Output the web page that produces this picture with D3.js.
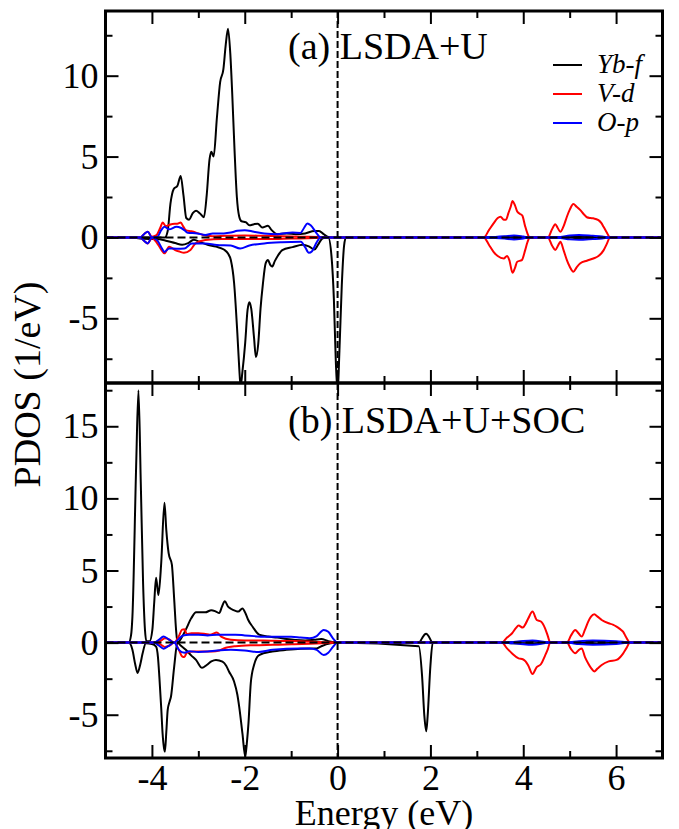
<!DOCTYPE html>
<html>
<head>
<meta charset="utf-8">
<script src="https://cdn.jsdelivr.net/npm/d3@7"></script>
<style>
	body { margin: 0; background: #fff; }
	svg { display: block; font-family: 'Liberation Serif', 'Times New Roman', serif; }
</style>
</head>
<body>
<svg width="679" height="829"></svg>
<script>
'use strict'

// Energy axis ticks
const energyMajor = [-4, -2, 0, 2, 4, 6]
const energyMinor = [-3, -1, 1, 3, 5]
const energyLabels = ['-4', '-2', '0', '2', '4', '6']

// PDOS axis ticks per panel
const aMajor = [-5, 0, 5, 10]
const aMinor = [-7.5, -2.5, 2.5, 7.5, 12.5]
const bMajor = [-5, 0, 5, 10, 15]
const bMinor = [-7.5, -2.5, 2.5, 7.5, 12.5, 17.5]

const legendNames = ['Yb-f', 'V-d', 'O-p']
const panelTitles = ['(a) LSDA+U', '(b) LSDA+U+SOC']

// (a) LSDA+U : [energy, pdos]  up = spin up, dn = spin down
const aYbUp = [[-5,0],[-3.72,0],[-3.66,0.4],[-3.6,2.1],[-3.53,3.0],[-3.45,3.2],[-3.38,3.8],[-3.32,2.6],[-3.26,1.2],[-3.2,1.1],[-3.12,1.5],[-3.05,1.65],[-2.97,1.5],[-2.88,1.25],[-2.82,2.6],[-2.76,4.8],[-2.72,5.3],[-2.67,5.0],[-2.6,7.4],[-2.53,9.6],[-2.46,10.4],[-2.41,11.9],[-2.36,12.9],[-2.31,11.3],[-2.27,8.9],[-2.22,5.4],[-2.17,2.5],[-2.12,1.3],[-2.07,1.0],[-1.98,0.95],[-1.9,0.75],[-1.8,0.82],[-1.72,0.85],[-1.62,0.62],[-1.5,0.72],[-1.42,0.45],[-1.3,0.2],[-1.1,0.25],[-0.9,0.2],[-0.7,0.25],[-0.5,0.4],[-0.4,0.4],[-0.3,0.2],[-0.2,0.03],[-0.1,0],[3.3,0],[3.7,0.05],[4.0,0.03],[4.14,0],[4.9,0],[5.2,0.05],[5.6,0.03],[5.87,0],[7,0]]
const aYbDn = [[-5,0],[-4.5,0],[-4.2,-0.08],[-3.9,-0.1],[-3.7,-0.2],[-3.5,-0.35],[-3.35,-0.45],[-3.22,-0.35],[-3.1,-0.15],[-2.95,-0.3],[-2.8,-0.45],[-2.62,-0.57],[-2.45,-0.75],[-2.36,-1.0],[-2.3,-1.4],[-2.23,-2.8],[-2.16,-5.9],[-2.12,-8.0],[-2.09,-9.2],[-2.05,-8.3],[-1.99,-6.5],[-1.94,-4.5],[-1.9,-4.0],[-1.86,-4.4],[-1.8,-6.2],[-1.76,-7.4],[-1.71,-6.6],[-1.66,-4.4],[-1.61,-2.9],[-1.55,-1.6],[-1.5,-1.4],[-1.45,-1.7],[-1.41,-1.8],[-1.35,-1.45],[-1.28,-1.1],[-1.19,-0.78],[-0.97,-0.6],[-0.75,-0.45],[-0.62,-0.55],[-0.5,-0.75],[-0.42,-0.45],[-0.32,-0.05],[-0.2,0],[-0.13,-1.2],[-0.08,-3.8],[-0.04,-7.5],[0,-9.6],[0.04,-7.0],[0.09,-3.0],[0.14,-0.5],[0.18,0],[3.3,0],[3.7,-0.05],[4.0,-0.03],[4.14,0],[4.9,0],[5.2,-0.05],[5.6,-0.03],[5.87,0],[7,0]]
const aVdUp = [[-5,0],[-4.25,0],[-4.17,0.2],[-4.09,0.35],[-4.0,0.05],[-3.9,0.15],[-3.82,0.6],[-3.77,0.92],[-3.7,0.7],[-3.62,0.78],[-3.56,0.83],[-3.45,0.85],[-3.38,0.92],[-3.32,0.65],[-3.27,0.45],[-3.15,0.38],[-3.05,0.3],[-2.9,0.15],[-2.7,0.08],[-2.4,0.1],[-2.0,0.12],[-1.6,0.1],[-1.2,0.08],[-0.8,0.05],[-0.4,0.03],[-0.2,0],[3.15,0],[3.26,0.45],[3.36,0.87],[3.45,1.2],[3.51,1.28],[3.58,1.1],[3.63,1.1],[3.68,1.5],[3.73,1.9],[3.77,2.25],[3.82,2.0],[3.87,1.6],[3.93,1.45],[3.98,1.35],[4.04,0.7],[4.09,0.25],[4.14,0],[4.53,0],[4.62,0.5],[4.69,0.82],[4.74,0.6],[4.8,0.35],[4.87,0.7],[4.94,1.28],[5.0,1.7],[5.08,2.06],[5.15,1.9],[5.23,1.69],[5.3,1.45],[5.37,1.25],[5.45,1.2],[5.51,1.18],[5.62,1.07],[5.68,0.9],[5.73,0.66],[5.8,0.3],[5.87,0],[7,0]]
const aVdDn = [[-5,0],[-4.25,0],[-4.17,-0.2],[-4.09,-0.37],[-4.0,-0.05],[-3.9,-0.3],[-3.8,-0.75],[-3.73,-0.98],[-3.63,-0.57],[-3.5,-0.78],[-3.4,-0.88],[-3.31,-0.95],[-3.17,-0.78],[-3.06,-0.37],[-2.85,-0.16],[-2.5,-0.1],[-2.0,-0.1],[-1.5,-0.1],[-1.0,-0.07],[-0.5,-0.04],[-0.2,0],[3.15,0],[3.26,-0.45],[3.36,-0.89],[3.45,-1.15],[3.58,-1.3],[3.65,-1.15],[3.7,-1.4],[3.77,-2.19],[3.82,-1.9],[3.87,-1.5],[3.97,-1.4],[4.04,-0.8],[4.09,-0.3],[4.14,0],[4.53,0],[4.62,-0.5],[4.69,-0.78],[4.75,-0.5],[4.8,-0.27],[4.87,-0.8],[4.94,-1.4],[5.0,-1.8],[5.08,-2.12],[5.15,-1.85],[5.23,-1.6],[5.37,-1.44],[5.51,-1.3],[5.62,-1.15],[5.73,-0.8],[5.8,-0.4],[5.87,0],[7,0]]
const aOpUp = [[-5,0],[-4.25,0],[-4.17,0.2],[-4.09,0.35],[-4.0,0],[-3.88,0.05],[-3.8,0.45],[-3.73,0.66],[-3.63,0.5],[-3.47,0.66],[-3.38,0.6],[-3.3,0.45],[-3.23,0.29],[-3.02,0.25],[-2.85,0.15],[-2.69,0.25],[-2.45,0.25],[-2.3,0.3],[-2.16,0.41],[-2.0,0.45],[-1.8,0.35],[-1.58,0.25],[-1.3,0.2],[-1.1,0.28],[-0.97,0.3],[-0.8,0.28],[-0.72,0.6],[-0.65,0.86],[-0.58,0.75],[-0.45,0.25],[-0.37,0],[3.15,0],[3.4,0.03],[3.6,0.07],[3.8,0.12],[4.0,0.06],[4.14,0],[4.53,0],[4.8,0.03],[5.0,0.12],[5.2,0.15],[5.5,0.1],[5.7,0.06],[5.87,0],[7,0]]
const aOpDn = [[-5,0],[-4.25,0],[-4.17,-0.2],[-4.09,-0.37],[-4.0,0],[-3.88,-0.2],[-3.78,-0.7],[-3.73,-0.9],[-3.63,-0.68],[-3.47,-0.7],[-3.3,-0.68],[-3.14,-0.37],[-2.85,-0.37],[-2.6,-0.47],[-2.3,-0.5],[-2.1,-0.68],[-1.9,-0.5],[-1.58,-0.37],[-1.2,-0.3],[-0.79,-0.27],[-0.7,-0.6],[-0.62,-0.95],[-0.55,-0.85],[-0.45,-0.3],[-0.37,0],[3.15,0],[3.4,-0.03],[3.6,-0.07],[3.8,-0.12],[4.0,-0.06],[4.14,0],[4.53,0],[4.8,-0.03],[5.0,-0.12],[5.2,-0.15],[5.5,-0.1],[5.7,-0.06],[5.87,0],[7,0]]

// (b) LSDA+U+SOC
const bYbUp = [[-5,0],[-4.5,0],[-4.45,0.5],[-4.42,1.8],[-4.34,12.2],[-4.29,17.5],[-4.24,11.1],[-4.19,4.1],[-4.15,0.9],[-4.12,0.1],[-4.05,0.1],[-3.99,0.9],[-3.95,2.8],[-3.91,4.5],[-3.86,3.3],[-3.8,5.5],[-3.73,9.7],[-3.69,7.8],[-3.64,6.2],[-3.57,5.4],[-3.52,3.0],[-3.48,0.9],[-3.45,0],[-3.35,0.4],[-3.27,0.9],[-3.15,1.7],[-3.05,2.1],[-2.95,2.1],[-2.85,2.1],[-2.72,2.25],[-2.62,2.15],[-2.55,2.05],[-2.49,2.5],[-2.43,2.86],[-2.36,2.5],[-2.3,2.35],[-2.2,2.2],[-2.14,2.15],[-2.05,2.37],[-1.98,2.0],[-1.93,1.6],[-1.83,1.1],[-1.69,0.55],[-1.5,0.42],[-1.3,0.35],[-1.1,0.25],[-0.9,0.18],[-0.7,0.15],[-0.5,0.2],[-0.35,0.25],[-0.2,0.1],[0,0],[1.75,0],[1.82,0.3],[1.87,0.55],[1.91,0.62],[1.96,0.45],[2.05,0],[3.54,0],[3.8,0.05],[4.2,0.07],[4.58,0],[4.94,0],[5.3,0.03],[5.6,0.07],[6.3,0],[7,0]]
const bYbDn = [[-5,0],[-4.5,0],[-4.42,-0.5],[-4.36,-1.5],[-4.31,-2.1],[-4.25,-1.5],[-4.2,-0.74],[-4.13,-0.05],[-4.0,-0.1],[-3.91,-0.28],[-3.87,-1.0],[-3.84,-2.36],[-3.8,-4.5],[-3.77,-6.3],[-3.74,-7.3],[-3.72,-7.56],[-3.69,-6.2],[-3.66,-4.67],[-3.62,-4.1],[-3.59,-3.75],[-3.52,-1.66],[-3.45,0],[-3.38,-0.2],[-3.27,-0.5],[-3.15,-0.9],[-3.05,-1.2],[-2.92,-1.75],[-2.82,-1.55],[-2.72,-1.3],[-2.62,-1.2],[-2.48,-1.32],[-2.4,-1.6],[-2.34,-2.0],[-2.23,-2.7],[-2.16,-3.6],[-2.12,-4.44],[-2.05,-6.3],[-1.99,-7.9],[-1.95,-6.8],[-1.92,-5.6],[-1.87,-2.8],[-1.8,-1.55],[-1.69,-0.86],[-1.41,-0.62],[-1.1,-0.5],[-0.8,-0.42],[-0.55,-0.4],[-0.45,-0.4],[-0.35,-0.25],[-0.15,-0.05],[0,0],[1.75,-0.25],[1.82,-2.3],[1.87,-5.1],[1.91,-6.15],[1.94,-5.1],[2.0,-1.6],[2.05,0],[3.54,0],[3.8,-0.05],[4.2,-0.07],[4.58,0],[4.94,0],[5.3,-0.03],[5.6,-0.07],[6.3,0],[7,0]]
const bVdUp = [[-5,0],[-3.9,0],[-3.8,0.15],[-3.72,0.3],[-3.62,0.2],[-3.52,0],[-3.42,0.45],[-3.35,0.9],[-3.3,0.93],[-3.25,0.6],[-3.15,0.65],[-3.0,0.65],[-2.85,0.6],[-2.75,0.55],[-2.6,0.7],[-2.5,0.4],[-2.3,0.2],[-2.0,0.15],[-1.6,0.15],[-1.2,0.12],[-0.8,0.1],[-0.4,0.05],[0,0],[3.54,0],[3.65,0.35],[3.76,0.65],[3.84,1.0],[3.9,1.18],[3.99,1.04],[4.05,1.3],[4.11,1.69],[4.2,2.15],[4.29,1.57],[4.38,1.46],[4.47,0.99],[4.53,0.45],[4.58,0],[4.94,0],[5.03,0.5],[5.12,0.88],[5.19,0.65],[5.26,0.42],[5.33,0.9],[5.4,1.46],[5.46,1.8],[5.53,1.96],[5.6,1.8],[5.69,1.57],[5.84,1.34],[5.93,1.25],[6.01,1.11],[6.08,0.95],[6.15,0.76],[6.22,0.35],[6.3,0],[7,0]]
const bVdDn = [[-5,0],[-3.9,0],[-3.8,-0.15],[-3.72,-0.3],[-3.62,-0.2],[-3.52,0],[-3.42,-0.5],[-3.35,-0.95],[-3.3,-1.0],[-3.25,-0.7],[-3.1,-0.62],[-2.9,-0.62],[-2.7,-0.62],[-2.55,-0.55],[-2.45,-0.4],[-2.2,-0.25],[-1.8,-0.18],[-1.4,-0.15],[-1.0,-0.12],[-0.6,-0.08],[-0.2,-0.03],[0,0],[3.54,0],[3.65,-0.4],[3.76,-0.75],[3.9,-1.09],[3.99,-1.15],[4.05,-1.3],[4.11,-1.6],[4.2,-2.17],[4.29,-1.7],[4.38,-1.5],[4.47,-0.9],[4.53,-0.45],[4.58,0],[4.94,0],[5.03,-0.45],[5.12,-0.74],[5.2,-0.5],[5.26,-0.4],[5.33,-1.0],[5.4,-1.44],[5.47,-1.8],[5.53,-2.0],[5.6,-1.8],[5.69,-1.55],[5.84,-1.3],[6.01,-1.2],[6.15,-0.76],[6.22,-0.4],[6.3,0],[7,0]]
const bOpUp = [[-5,0],[-3.95,0],[-3.85,0.2],[-3.75,0.42],[-3.65,0.25],[-3.52,0],[-3.42,0.25],[-3.33,0.5],[-3.2,0.55],[-3.0,0.55],[-2.8,0.5],[-2.6,0.55],[-2.4,0.55],[-2.2,0.55],[-2.0,0.5],[-1.8,0.45],[-1.6,0.4],[-1.3,0.4],[-1.0,0.4],[-0.8,0.35],[-0.6,0.3],[-0.45,0.45],[-0.3,0.88],[-0.2,0.75],[-0.1,0.3],[0,0],[3.54,0],[3.9,0.08],[4.2,0.15],[4.58,0],[4.94,0],[5.2,0.1],[5.5,0.15],[6.0,0.1],[6.3,0],[7,0]]
const bOpDn = [[-5,0],[-3.95,0],[-3.85,-0.2],[-3.75,-0.42],[-3.65,-0.25],[-3.52,0],[-3.42,-0.5],[-3.3,-0.7],[-3.2,-0.6],[-3.0,-0.65],[-2.8,-0.62],[-2.6,-0.55],[-2.3,-0.5],[-2.0,-0.55],[-1.7,-0.65],[-1.4,-0.5],[-1.1,-0.42],[-0.8,-0.4],[-0.6,-0.4],[-0.45,-0.5],[-0.3,-0.86],[-0.2,-0.7],[-0.1,-0.3],[0,0],[3.54,0],[3.9,-0.08],[4.2,-0.15],[4.58,0],[4.94,0],[5.2,-0.1],[5.5,-0.15],[6.0,-0.1],[6.3,0],[7,0]]

const COLORS = ['#000000', '#ff0000', '#0000ff']
const PLOT = { left: 105.5, right: 662.5 }

const svg = d3.select('svg')
const x = d3.scaleLinear().domain([-5, 7]).range([PLOT.left, PLOT.right])

const panels = [
	{ top: 11, bottom: 383, domain: [-9, 14], major: aMajor, minor: aMinor, title: panelTitles[0], series: [[aYbUp, aYbDn], [aVdUp, aVdDn], [aOpUp, aOpDn]], titleY: 59 },
	{ top: 383, bottom: 758, domain: [-8, 18], major: bMajor, minor: bMinor, title: panelTitles[1], series: [[bYbUp, bYbDn], [bVdUp, bVdDn], [bOpUp, bOpDn]], titleY: 433 },
]

const styleAxis = (g, withLabels) => {
	g.select('.domain').remove()
	g.selectAll('.tick line').attr('stroke', '#000').attr('stroke-width', 2)
	g.selectAll('.tick text')
		.attr('font-family', 'Liberation Serif, Times New Roman, serif')
		.attr('font-size', 36).attr('fill', '#000')
	if (!withLabels) g.selectAll('.tick text').remove()
}

panels.forEach((p, i) => {
	const y = d3.scaleLinear().domain(p.domain).range([p.bottom, p.top])
	const g = svg.append('g').classed('panel', true)

	// Clip curves to the frame
	g.append('clipPath').attr('id', `clip${i}`)
		.append('rect')
		.attr('x', PLOT.left).attr('y', p.top)
		.attr('width', PLOT.right - PLOT.left).attr('height', p.bottom - p.top)

	const line = d3.line()
		.x((d) => x(d[0]))
		.y((d) => y(d[1]))
		.curve(d3.curveMonotoneX)

	const curves = g.append('g').attr('clip-path', `url(#clip${i})`)
	p.series.forEach((pair, k) => {
		pair.forEach((data) => {
			curves.append('path')
				.datum(data)
				.attr('d', line)
				.attr('fill', 'none')
				.attr('stroke', COLORS[k])
				.attr('stroke-width', 2)
				.attr('stroke-linejoin', 'round')
		})
	})

	// Zero line and Fermi level
	curves.append('line')
		.attr('x1', x(-5)).attr('x2', x(7))
		.attr('y1', y(0)).attr('y2', y(0))
		.attr('stroke', '#000').attr('stroke-width', 2)
		.attr('stroke-dasharray', '8,4')
	curves.append('line')
		.attr('x1', x(0)).attr('x2', x(0))
		.attr('y1', p.top).attr('y2', p.bottom)
		.attr('stroke', '#000').attr('stroke-width', 2)
		.attr('stroke-dasharray', '7,3')

	// Axes: ticks point inward on all four sides
	g.append('g').attr('transform', `translate(${PLOT.left},0)`)
		.call(d3.axisLeft(y).tickValues(p.major).tickSize(-13).tickPadding(7).tickFormat((d) => String(d)))
		.call((s) => styleAxis(s, true))
	g.append('g').attr('transform', `translate(${PLOT.left},0)`)
		.call(d3.axisLeft(y).tickValues(p.minor).tickSize(-7))
		.call((s) => styleAxis(s, false))
	g.append('g').attr('transform', `translate(${PLOT.right},0)`)
		.call(d3.axisRight(y).tickValues(p.major).tickSize(-13))
		.call((s) => styleAxis(s, false))
	g.append('g').attr('transform', `translate(${PLOT.right},0)`)
		.call(d3.axisRight(y).tickValues(p.minor).tickSize(-7))
		.call((s) => styleAxis(s, false))
	g.append('g').attr('transform', `translate(0,${p.top})`)
		.call(d3.axisTop(x).tickValues(energyMajor).tickSize(-13))
		.call((s) => styleAxis(s, false))
	g.append('g').attr('transform', `translate(0,${p.top})`)
		.call(d3.axisTop(x).tickValues(energyMinor).tickSize(-7))
		.call((s) => styleAxis(s, false))
	const last = i === panels.length - 1
	g.append('g').attr('transform', `translate(0,${p.bottom})`)
		.call(d3.axisBottom(x).tickValues(energyMajor).tickSize(-13).tickPadding(6)
			.tickFormat((d, j) => energyLabels[j]))
		.call((s) => styleAxis(s, last))
	g.append('g').attr('transform', `translate(0,${p.bottom})`)
		.call(d3.axisBottom(x).tickValues(energyMinor).tickSize(-7))
		.call((s) => styleAxis(s, false))

	// Frame
	g.append('rect')
		.attr('x', PLOT.left).attr('y', p.top)
		.attr('width', PLOT.right - PLOT.left).attr('height', p.bottom - p.top)
		.attr('fill', 'none').attr('stroke', '#000').attr('stroke-width', 3)

	// Panel title
	g.append('text')
		.attr('x', 288).attr('y', p.titleY)
		.attr('font-size', 38)
		.text(p.title)
})

// Legend (top panel)
const legend = svg.append('g').classed('legend', true)
legendNames.forEach((name, k) => {
	const ly = 65 + k * 29
	legend.append('line')
		.attr('x1', 553).attr('x2', 582)
		.attr('y1', ly).attr('y2', ly)
		.attr('stroke', COLORS[k]).attr('stroke-width', 2)
	legend.append('text')
		.attr('x', 597).attr('y', ly + 8)
		.attr('font-size', 27).attr('font-style', 'italic')
		.text(name)
})

// Axis titles
svg.append('text')
	.attr('transform', 'translate(40,384.5) rotate(-90)')
	.attr('text-anchor', 'middle')
	.attr('font-size', 38)
	.text('PDOS (1/eV)')
svg.append('text')
	.attr('x', (PLOT.left + PLOT.right) / 2).attr('y', 825)
	.attr('text-anchor', 'middle')
	.attr('font-size', 36)
	.text('Energy (eV)')
</script>
</body>
</html>
